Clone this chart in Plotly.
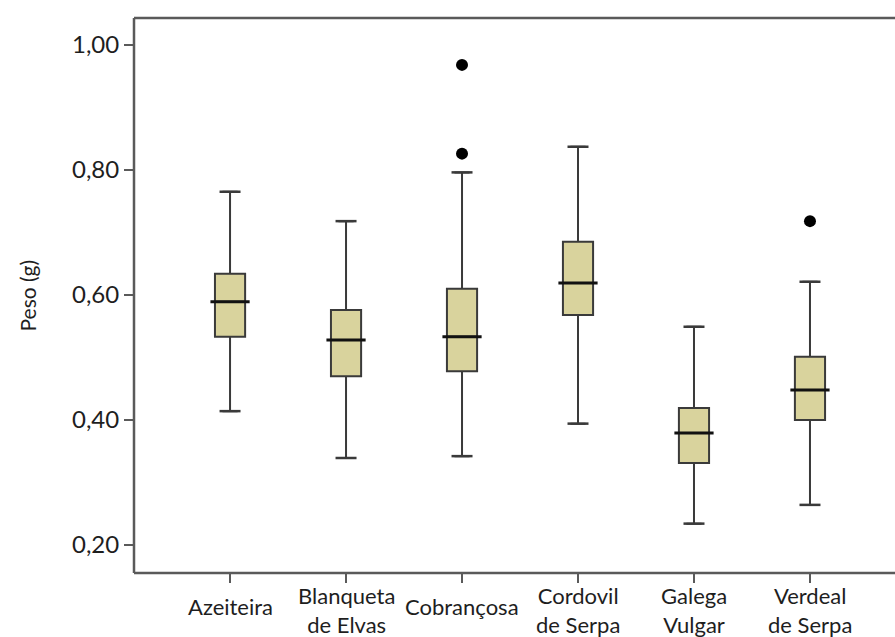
import plotly.graph_objects as go

categories = ["Azeiteira", "Blanqueta<br>de Elvas", "Cobrançosa", "Cordovil<br>de Serpa", "Galega<br>Vulgar", "Verdeal<br>de Serpa"]
lower_whisker = [0.414, 0.339, 0.342, 0.394, 0.234, 0.264]
q1 = [0.533, 0.470, 0.478, 0.568, 0.331, 0.400]
median = [0.589, 0.528, 0.533, 0.619, 0.379, 0.448]
q3 = [0.634, 0.576, 0.610, 0.685, 0.419, 0.501]
upper_whisker = [0.765, 0.718, 0.796, 0.837, 0.549, 0.621]
outlier_cat = [2, 2, 5]
outlier_val = [0.968, 0.826, 0.718]
y_ticks = [0.20, 0.40, 0.60, 0.80, 1.00]
y_ticklabels = ["0,20", "0,40", "0,60", "0,80", "1,00"]
y_title = "Peso (g)"

FONT = "Lato"
BOX_FILL = "#d9d39d"
LINE = "#3a3a3a"
AXIS = "#5a5a5a"
TEXT = "#1e1e1e"

xs = list(range(len(categories)))
fig = go.Figure()
fig.add_trace(go.Box(
    x=xs, q1=q1, median=median, q3=q3,
    lowerfence=lower_whisker, upperfence=upper_whisker,
    fillcolor=BOX_FILL, line=dict(color=LINE, width=2),
    width=0.26, boxpoints=False, hoverinfo="skip", showlegend=False,
))
fig.add_trace(go.Scatter(
    x=xs + xs, y=lower_whisker + upper_whisker, mode="markers",
    marker=dict(symbol="line-ew", size=15, line=dict(color=LINE, width=2.5)),
    showlegend=False, hoverinfo="skip",
))
fig.add_trace(go.Scatter(
    x=xs, y=median, mode="markers",
    marker=dict(symbol="line-ew", size=28, line=dict(color="#111111", width=3)),
    showlegend=False, hoverinfo="skip",
))
fig.add_trace(go.Scatter(
    x=outlier_cat, y=outlier_val, mode="markers",
    marker=dict(symbol="circle", size=12, color="#000000"),
    showlegend=False, hoverinfo="skip",
))

for i, c in enumerate(categories):
    nlines = c.count("<br>") + 1
    fig.add_annotation(
        x=i, y=0, xref="x", yref="paper", text=c, showarrow=False,
        yanchor="middle", xanchor="center", yshift=-33 - 4 * (nlines - 1),
        font=dict(family=FONT, size=22, color=TEXT),
    )

fig.add_annotation(
    x=-107 / 761, y=0.5, xref="paper", yref="paper", text=y_title,
    textangle=-90, showarrow=False, xanchor="center", yanchor="middle",
    font=dict(family=FONT, size=21, color=TEXT),
)

# frame lines (top, bottom, left)
for (x0, x1, y0, y1) in [(0, 1.05, 1, 1), (0, 1.05, 0, 0), (0, 0, 0, 1)]:
    fig.add_shape(type="line", xref="paper", yref="paper", x0=x0, x1=x1, y0=y0, y1=y1,
                  line=dict(color=AXIS, width=2.5), layer="above")

fig.update_layout(
    width=895, height=637,
    margin=dict(l=134, r=0, t=18, b=64),
    paper_bgcolor="white", plot_bgcolor="white",
    font=dict(family=FONT, color=TEXT),
    dragmode=False,
    xaxis=dict(
        range=[-0.828, 5.733], tickvals=xs, ticktext=[""] * len(xs),
        ticks="outside", ticklen=9, tickwidth=2, tickcolor=AXIS,
        showline=False, showgrid=False, zeroline=False,
    ),
    yaxis=dict(
        range=[0.155, 1.043], tickvals=y_ticks, ticktext=y_ticklabels,
        ticks="outside", ticklen=9, tickwidth=2, tickcolor=AXIS,
        showline=False, showgrid=False, zeroline=False,
        tickfont=dict(family=FONT, size=24, color=TEXT),
    ),
)

fig.write_html("out.html", config={"staticPlot": True, "displayModeBar": False})
